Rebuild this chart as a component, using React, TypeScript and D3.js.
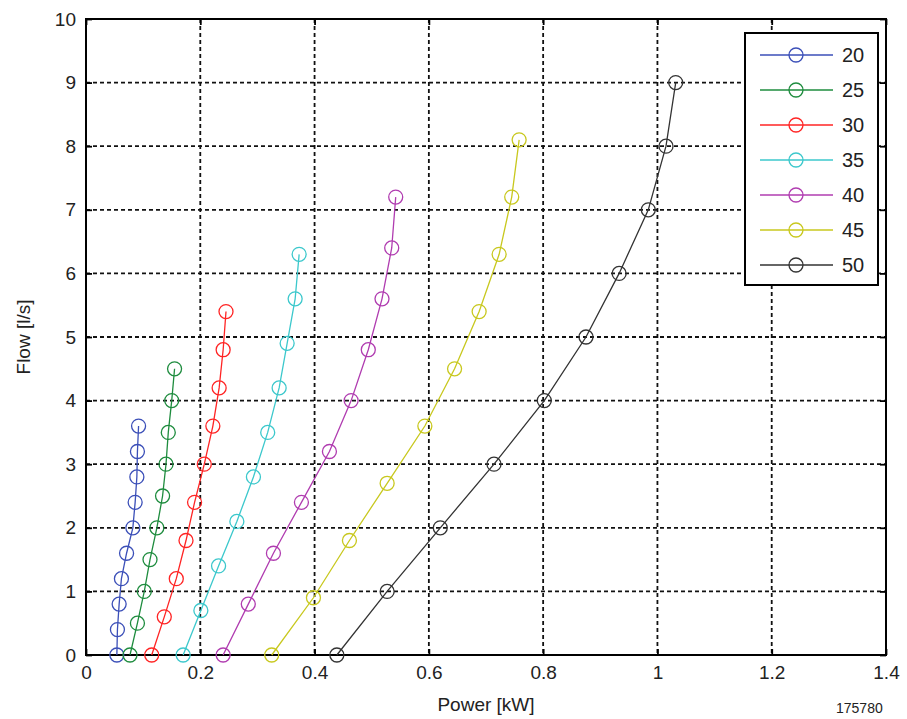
import React, { useEffect, useRef } from 'react';
import * as d3 from 'd3';

// pump curves, speed label -> (power kW, flow l/s)
const speeds = ['20', '25', '30', '35', '40', '45', '50'];
const colors = ['#3b4fb8', '#1e8c3e', '#ff2424', '#3cc8cc', '#b03cb0', '#c8c81e', '#333333'];

const flow20 = [0, 0.4, 0.8, 1.2, 1.6, 2.0, 2.4, 2.8, 3.2, 3.6];
const power20 = [0.054, 0.055, 0.058, 0.062, 0.071, 0.082, 0.086, 0.089, 0.090, 0.092];
const flow25 = [0, 0.5, 1.0, 1.5, 2.0, 2.5, 3.0, 3.5, 4.0, 4.5];
const power25 = [0.077, 0.090, 0.102, 0.112, 0.124, 0.134, 0.140, 0.144, 0.150, 0.155];
const flow30 = [0, 0.6, 1.2, 1.8, 2.4, 3.0, 3.6, 4.2, 4.8, 5.4];
const power30 = [0.115, 0.137, 0.158, 0.175, 0.190, 0.207, 0.222, 0.233, 0.240, 0.245];
const flow35 = [0, 0.7, 1.4, 2.1, 2.8, 3.5, 4.2, 4.9, 5.6, 6.3];
const power35 = [0.170, 0.201, 0.232, 0.264, 0.293, 0.318, 0.338, 0.352, 0.366, 0.373];
const flow40 = [0, 0.8, 1.6, 2.4, 3.2, 4.0, 4.8, 5.6, 6.4, 7.2];
const power40 = [0.240, 0.284, 0.328, 0.377, 0.426, 0.464, 0.494, 0.518, 0.535, 0.542];
const flow45 = [0, 0.9, 1.8, 2.7, 3.6, 4.5, 5.4, 6.3, 7.2, 8.1];
const power45 = [0.325, 0.398, 0.461, 0.527, 0.593, 0.645, 0.688, 0.723, 0.745, 0.758];
const flow50 = [0, 1, 2, 3, 4, 5, 6, 7, 8, 9];
const power50 = [0.439, 0.527, 0.620, 0.714, 0.802, 0.875, 0.933, 0.984, 1.015, 1.032];

const xTicks = [0, 0.2, 0.4, 0.6, 0.8, 1, 1.2, 1.4];
const yTicks = [0, 1, 2, 3, 4, 5, 6, 7, 8, 9, 10];

const series = [
  { power: power20, flow: flow20 },
  { power: power25, flow: flow25 },
  { power: power30, flow: flow30 },
  { power: power35, flow: flow35 },
  { power: power40, flow: flow40 },
  { power: power45, flow: flow45 },
  { power: power50, flow: flow50 },
];

const App = () => {
  const ref = useRef(null);

  useEffect(() => {
    const svg = d3.select(ref.current);
    svg.selectAll('*').remove();

    const width = 907;
    const height = 719;
    const left = 86, right = 886, top = 19, bottom = 655;
    const font = '"Liberation Sans", Arial, sans-serif';

    const x = d3.scaleLinear().domain([0, 1.4]).range([left, right]);
    const y = d3.scaleLinear().domain([0, 10]).range([bottom, top]);

    svg.attr('width', width).attr('height', height);
    svg.append('rect').attr('width', width).attr('height', height).attr('fill', '#fff');

    // grid
    const grid = svg.append('g')
      .attr('stroke', '#111')
      .attr('stroke-width', 1.8)
      .attr('stroke-dasharray', '4,3');
    grid.selectAll('.gx')
      .data(xTicks.slice(1, -1))
      .enter()
      .append('line')
      .attr('x1', d => x(d)).attr('x2', d => x(d))
      .attr('y1', top).attr('y2', bottom);
    grid.selectAll('.gy')
      .data(yTicks.slice(1, -1))
      .enter()
      .append('line')
      .attr('x1', left).attr('x2', right)
      .attr('y1', d => y(d)).attr('y2', d => y(d));

    // axes (ticks pointing inward, box on)
    const axisBottom = svg.append('g')
      .attr('transform', `translate(0, ${bottom})`)
      .call(d3.axisBottom(x).tickValues(xTicks).tickSize(-6).tickPadding(11).tickFormat(d3.format('~g')));
    const axisLeft = svg.append('g')
      .attr('transform', `translate(${left}, 0)`)
      .call(d3.axisLeft(y).tickValues(yTicks).tickSize(-6).tickPadding(10).tickFormat(d3.format('~g')));
    svg.append('g')
      .attr('transform', `translate(0, ${top})`)
      .call(d3.axisTop(x).tickValues(xTicks).tickSize(-6).tickFormat(() => ''));
    svg.append('g')
      .attr('transform', `translate(${right}, 0)`)
      .call(d3.axisRight(y).tickValues(yTicks).tickSize(-6).tickFormat(() => ''));

    svg.selectAll('.domain').remove();
    svg.selectAll('.tick line').attr('stroke', '#000').attr('stroke-width', 1.8);
    [axisBottom, axisLeft].forEach(a => a.selectAll('text')
      .attr('font-family', font)
      .attr('font-size', 19)
      .attr('fill', '#222'));

    svg.append('rect')
      .attr('x', left).attr('y', top)
      .attr('width', right - left).attr('height', bottom - top)
      .attr('fill', 'none')
      .attr('stroke', '#000')
      .attr('stroke-width', 2);

    // curves
    const line = d3.line().x(d => x(d[0])).y(d => y(d[1]));
    series.forEach((s, i) => {
      const pts = s.power.map((p, j) => [p, s.flow[j]]);
      const g = svg.append('g');
      g.append('path')
        .attr('d', line(pts))
        .attr('fill', 'none')
        .attr('stroke', colors[i])
        .attr('stroke-width', 1.3);
      g.selectAll('circle')
        .data(pts)
        .enter()
        .append('circle')
        .attr('cx', d => x(d[0]))
        .attr('cy', d => y(d[1]))
        .attr('r', 7)
        .attr('fill', 'none')
        .attr('stroke', colors[i])
        .attr('stroke-width', 1.3);
    });

    // legend
    const legend = svg.append('g');
    legend.append('rect')
      .attr('x', 745).attr('y', 33)
      .attr('width', 133).attr('height', 252)
      .attr('fill', '#fff')
      .attr('stroke', '#000')
      .attr('stroke-width', 2);
    speeds.forEach((s, i) => {
      const ly = 55 + i * 35;
      legend.append('line')
        .attr('x1', 760).attr('x2', 833)
        .attr('y1', ly).attr('y2', ly)
        .attr('stroke', colors[i]).attr('stroke-width', 1.3);
      legend.append('circle')
        .attr('cx', 796).attr('cy', ly).attr('r', 7)
        .attr('fill', 'none').attr('stroke', colors[i]).attr('stroke-width', 1.3);
      legend.append('text')
        .attr('x', 842).attr('y', ly + 7)
        .attr('font-family', font).attr('font-size', 20)
        .attr('fill', '#222')
        .text(s);
    });

    // axis titles
    svg.append('text')
      .attr('x', (left + right) / 2).attr('y', 711)
      .attr('text-anchor', 'middle')
      .attr('font-family', font).attr('font-size', 19)
      .attr('fill', '#222')
      .text('Power [kW]');
    svg.append('text')
      .attr('transform', `translate(30, ${(top + bottom) / 2}) rotate(-90)`)
      .attr('text-anchor', 'middle')
      .attr('font-family', font).attr('font-size', 19)
      .attr('fill', '#222')
      .text('Flow [l/s]');

    svg.append('text')
      .attr('x', 836).attr('y', 713)
      .attr('font-family', font).attr('font-size', 14)
      .attr('fill', '#222')
      .text('175780');
  }, []);

  return <svg ref={ref} style={{ position: 'absolute', left: 0, top: 0 }} />;
};

export default App;
